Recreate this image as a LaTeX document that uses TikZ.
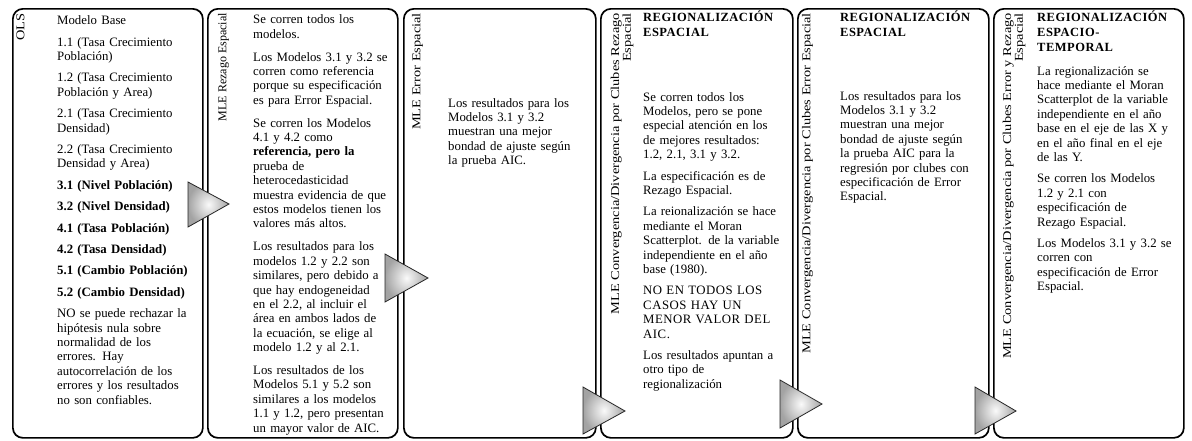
\documentclass[tikz,border=0pt]{standalone}
\usepackage{fontspec}
\setmainfont{Liberation Serif}
\newfontfamily\spacedserif[LetterSpace=4]{Liberation Serif}
\setlength\parindent{0pt}
\newcommand\myBody{\fontsize{12.8}{14.4}\selectfont}
\newcommand\myTitle{\spacedserif\bfseries\fontsize{12.5}{14.6}\selectfont}
\newcommand\myCaps{\spacedserif\fontsize{12.8}{14.4}\selectfont}
\newcommand\myLbl[2][1.2]{\scalebox{#1}[1]{\fontsize{12}{11.5}\selectfont\begin{tabular}{@{}r@{}}#2\end{tabular}}}
\newcommand\pgap{\\[7pt]}
\newcommand\pgapb{\\[8.5pt]}
\begin{document}
\begin{tikzpicture}[x=1pt,y=-1pt,
  panel/.style={draw=black,line width=1.7pt,rounded corners=10pt,fill=white,anchor=north west,inner sep=0pt,minimum height=429pt},
  body/.style={anchor=north west,align=left,inner sep=0pt,text width=150pt,font=\myBody},
  ttl/.style={anchor=north west,align=left,inner sep=0pt,text width=150pt,font=\myTitle},
  vlabel/.style={rotate=90,anchor=east,inner sep=0pt},
  tri/.style={draw=black!85,line width=0.8pt,inner color=gray!4,outer color=gray!72}]
\useasboundingbox (0,0) rectangle (1192,440);

% panels
\node[panel,minimum width=190pt] (p1) at (12,8) {};
\node[panel,minimum width=190pt] (p2) at (207,8) {};
\node[panel,minimum width=192pt] (p3) at (403,8) {};
\node[panel,minimum width=192pt] (p4) at (600,8) {};
\node[panel,minimum width=191pt] (p5) at (797,8) {};
\node[panel,minimum width=190pt] (p6) at (993,8) {};

% vertical labels
\node[vlabel] (l1) at (22,13) {\myLbl{OLS}};
\node[vlabel] (l2) at (224,13) {\myLbl[1.0]{MLE Rezago Espacial}};
\node[vlabel] (l3) at (418,13) {\myLbl{MLE Error Espacial}};
\node[vlabel] (l4) at (622.5,13) {\myLbl{MLE Convergencia/Divergencia por Clubes Rezago\\Espacial}};
\node[vlabel] (l5) at (808,13) {\myLbl{MLE Convergencia/Divergencia por Clubes Error Espacial}};
\node[vlabel] (l6) at (1014.5,13) {\myLbl{MLE Convergencia/Divergencia por Clubes Error y Rezago\\Espacial}};

% panel 1
\node[body] (b1) at (57,15.7) {Modelo Base\pgap
1.1 (Tasa Crecimiento\\Población)\pgap
1.2 (Tasa Crecimiento\\Población y Area)\pgap
2.1 (Tasa Crecimiento\\Densidad)\pgap
2.2 (Tasa Crecimiento\\Densidad y Area)\pgap
\textbf{3.1 (Nivel Población)}\pgap
\textbf{3.2 (Nivel Densidad)}\pgap
\textbf{4.1 (Tasa Población)}\pgap
\textbf{4.2 (Tasa Densidad)}\pgap
\textbf{5.1 (Cambio Población)}\pgap
\textbf{5.2 (Cambio Densidad)}\pgap
NO se puede rechazar la\\hipótesis nula sobre\\normalidad de los\\errores. Hay\\autocorrelación de los\\errores y los resultados\\no son confiables.};

% panel 2
\node[body] (b2) at (253,14.7) {Se corren todos los\\modelos.\pgapb
Los Modelos 3.1 y 3.2 se\\corren como referencia\\porque su especificación\\es para Error Espacial.\pgapb
Se corren los Modelos\\4.1 y 4.2 como\\\textbf{referencia, pero la}\\prueba de\\heterocedasticidad\\muestra evidencia de que\\estos modelos tienen los\\valores más altos.\pgapb
Los resultados para los\\modelos 1.2 y 2.2 son\\similares, pero debido a\\que hay endogeneidad\\en el 2.2, al incluir el\\área en ambos lados de\\la ecuación, se elige al\\modelo 1.2 y al 2.1.\pgapb
Los resultados de los\\Modelos 5.1 y 5.2 son\\similares a los modelos\\1.1 y 1.2, pero presentan\\un mayor valor de AIC.};

% panel 3
\node[body] (b3) at (448,98) {Los resultados para los\\Modelos 3.1 y 3.2\\muestran una mejor\\bondad de ajuste según\\la prueba AIC.};

% panel 4
\node[ttl] (t4) at (643,11) {REGIONALIZACIÓN\\ESPACIAL};
\node[body] (b4) at (643,92) {Se corren todos los\\Modelos, pero se pone\\especial atención en los\\de mejores resultados:\\1.2, 2.1, 3.1 y 3.2.\pgap
La especificación es de\\Rezago Espacial.\pgap
La reionalización se hace\\mediante el Moran\\Scatterplot. de la variable\\independiente en el año\\base (1980).\pgap
{\myCaps NO EN TODOS LOS\\CASOS HAY UN\\MENOR VALOR DEL\\AIC.}\pgap
Los resultados apuntan a\\otro tipo de\\regionalización};

% panel 5
\node[ttl] (t5) at (840,11) {REGIONALIZACIÓN\\ESPACIAL};
\node[body] (b5) at (840,91) {Los resultados para los\\Modelos 3.1 y 3.2\\muestran una mejor\\bondad de ajuste según\\la prueba AIC para la\\regresión por clubes con\\especificación de Error\\Espacial.};

% panel 6
\node[ttl] (t6) at (1037,11) {REGIONALIZACIÓN\\ESPACIO-\\TEMPORAL};
\node[body] (b6) at (1037,66) {La regionalización se\\hace mediante el Moran\\Scatterplot de la variable\\independiente en el año\\base en el eje de las X y\\en el año final en el eje\\de las Y.\pgap
Se corren los Modelos\\1.2 y 2.1 con\\especificación de\\Rezago Espacial.\pgap
Los Modelos 3.1 y 3.2 se\\corren con\\especificación de Error\\Espacial.};

% triangles between panels
\shadedraw[tri] (188,182) -- (229,204) -- (188,227) -- cycle;
\shadedraw[tri] (385,254) -- (428,278) -- (385,302) -- cycle;
\shadedraw[tri] (583,387) -- (625,411) -- (583,434) -- cycle;
\shadedraw[tri] (780,380) -- (822,404) -- (780,428) -- cycle;
\shadedraw[tri] (975,387) -- (1016,411) -- (975,434) -- cycle;
\end{tikzpicture}
\end{document}
